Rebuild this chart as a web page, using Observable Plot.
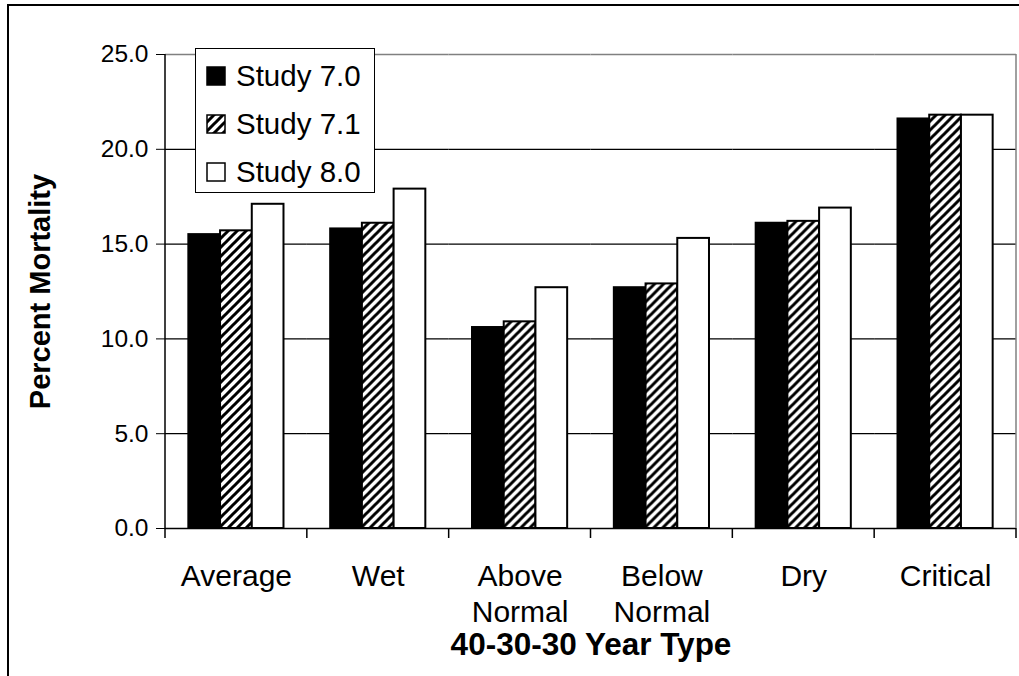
<!DOCTYPE html>
<html><head><meta charset="utf-8">
<script src="https://cdn.jsdelivr.net/npm/d3@7"></script>
<script src="https://cdn.jsdelivr.net/npm/@observablehq/plot@0.6"></script>
<style>
html,body{margin:0;padding:0;overflow:hidden;background:#fff;}
#wrap{position:relative;width:1019px;height:676px;font-family:"Liberation Sans",Arial,sans-serif;}
#outer{position:absolute;left:7px;top:4px;width:1100px;height:800px;border:2px solid #000;box-sizing:border-box;pointer-events:none;}
#legend{position:absolute;left:195px;top:48px;width:180px;height:145px;border:1px solid #000;background:#fff;box-sizing:border-box;}
.item{position:absolute;left:10px;height:32px;display:flex;align-items:center;font-size:29.5px;line-height:32px;color:#000;white-space:nowrap;}
.item svg{margin-right:9px;flex:none;}
</style></head>
<body><div id="wrap"><div id="chart"></div><div id="outer"></div><div id="legend"></div></div>
<script>
const categories = ["Average","Wet","Above Normal","Below Normal","Dry","Critical"];
const series = ["Study 7.0","Study 7.1","Study 8.0"];
const study70 = [15.5,15.8,10.6,12.7,16.1,21.6];
const study71 = [15.7,16.1,10.9,12.9,16.2,21.8];
const study80 = [17.1,17.9,12.7,15.3,16.9,21.8];
const yTicks = [0,5,10,15,20,25];
const gridTicks = [5,10,15,20];
const fills = ["#000000","url(#hatch)","#ffffff"];
const yTitle = "Percent Mortality";
const xTitle = "40-30-30 Year Type";

const values = [study70, study71, study80];
const data = categories.flatMap((c,i)=>series.map((s,j)=>({category:c, series:s, value:values[j][i]})));

const font = "Liberation Sans, Arial, sans-serif";
const plot = Plot.plot({
  width:1019, height:676, marginLeft:165, marginRight:3, marginTop:54, marginBottom:148,
  style:{fontFamily:font, fontSize:"24px", color:"#000", background:"transparent", overflow:"visible"},
  fx:{domain:categories, paddingInner:0, paddingOuter:0, round:false, label:null, axis:null},
  x:{domain:series, paddingInner:0, paddingOuter:0.736, round:false, axis:null},
  y:{domain:[0,25], axis:null},
  color:{domain:series, range:fills},
  marks:[
    Plot.ruleY(gridTicks, {stroke:"#000", strokeWidth:1.2}),
    Plot.ruleY([25], {stroke:"#808080", strokeWidth:1.5}),
    Plot.barY(data, {fx:"category", x:"series", y:"value", fill:"series", stroke:"#000", strokeWidth:2}),
    Plot.ruleY([0], {stroke:"#000", strokeWidth:1.5}),
    Plot.axisY(yTicks, {tickFormat:d3.format(".1f"), tickSize:9, tickPadding:8, label:null, stroke:"#000", fontSize:24.5}),
    Plot.axisFx({anchor:"bottom", tickSize:0, tickPadding:32, label:null, fontSize:30, lineHeight:1.2, tickFormat:d=>d.replace(" ","\n")}),
    Plot.text([yTitle], {facet:"super", frameAnchor:"left", dx:-125, rotate:-90, textAnchor:"middle", text:d=>d, fontWeight:"bold", fontSize:29}),
    Plot.text([xTitle], {facet:"super", frameAnchor:"bottom", dy:126, textAnchor:"middle", text:d=>d, fontWeight:"bold", fontSize:31.5})
  ]
});
document.getElementById("chart").appendChild(plot);

const svg = d3.select(plot);
svg.insert("defs", ":first-child").html(
  '<pattern id="hatch" patternUnits="userSpaceOnUse" width="9" height="9">' +
  '<rect width="9" height="9" fill="#fff"/>' +
  '<path d="M-2,2 L2,-2 M0,9 L9,0 M7,11 L11,7" stroke="#000" stroke-width="3"/></pattern>');

// axis lines, right border and category boundary ticks, from the plot's scales
const fx = plot.scale("fx"), y = plot.scale("y");
const y0 = y.apply(0), y25 = y.apply(25);
const bounds = categories.map(c => fx.apply(c));
const xRight = fx.apply(categories[categories.length-1]) + fx.bandwidth;
bounds.push(xRight);
const g = svg.append("g");
g.selectAll("line.b").data(bounds).join("line")
  .attr("x1",d=>d).attr("x2",d=>d).attr("y1",y0).attr("y2",y0+10)
  .attr("stroke","#000").attr("stroke-width",1.5);
g.append("line").attr("x1",xRight).attr("x2",xRight).attr("y1",y25).attr("y2",y0)
  .attr("stroke","#808080").attr("stroke-width",1.5);
g.append("line").attr("x1",bounds[0]).attr("x2",bounds[0]).attr("y1",y25).attr("y2",y0)
  .attr("stroke","#000").attr("stroke-width",1.5);

// legend
const legend = document.getElementById("legend");
series.forEach((s,i)=>{
  const div = document.createElement("div");
  div.className = "item";
  div.style.top = (11 + i*48) + "px";
  div.innerHTML = `<svg width="21" height="21"><rect x="1" y="1" width="18" height="18" fill="${fills[i]}" stroke="#000" stroke-width="1.5"/></svg>${s}`;
  legend.appendChild(div);
});
</script>
</body></html>
